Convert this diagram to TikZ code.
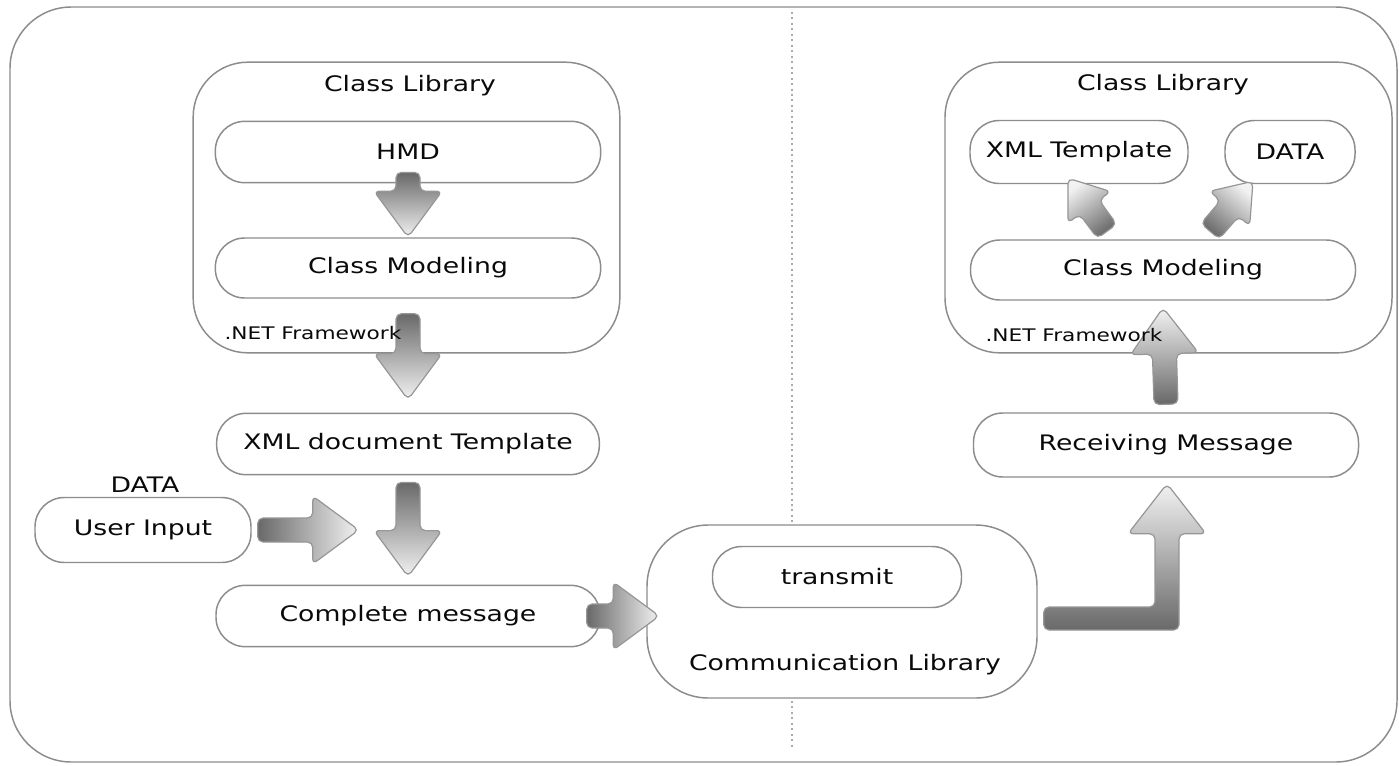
\documentclass[tikz,border=0pt]{standalone}
\usepackage{fontspec}
\setmainfont{DejaVu Sans}[FakeStretch=1.25]
\usepackage{tikz}
\tikzset{every picture/.style={line width=0.75pt}}
\usepackage{color}
\usetikzlibrary{calc}

\definecolor{boxgray}{RGB}{140,140,140}
\definecolor{arrowline}{RGB}{150,150,150}
\definecolor{tailgray}{RGB}{105,105,105}
\definecolor{headgray}{RGB}{242,242,242}
\definecolor{dotgray}{RGB}{170,170,170}
\definecolor{ink}{RGB}{10,10,10}

\tikzset{
  pill/.style={draw=boxgray, line width=1.1pt, fill=white, rounded corners=22pt, inner sep=0pt, minimum height=46pt, text=ink},
  libbox/.style={draw=boxgray, line width=1.1pt, fill=white, rounded corners=41pt, inner sep=0pt},
  caption/.style={inner sep=0.75pt, text=ink},
  arrowfill/.style={draw=arrowline, line width=0.9pt, rounded corners=4pt, top color=tailgray, bottom color=headgray},
}

% block arrow from #2 to #3, head scaled by #1
\newcommand\flowarrow[3][1]{%
  \path let \p1=(#2), \p2=(#3) in \pgfextra{%
    \pgfmathsetmacro\faang{atan2(\y2-\y1,\x2-\x1)}%
    \pgfmathsetmacro\falen{veclen(\x2-\x1,\y2-\y1)}%
    \pgfmathsetmacro\fahl{34.5*#1}%
    \pgfmathsetmacro\fahw{25.5*#1}%
    \global\let\faang\faang \global\let\falen\falen
    \global\let\fahl\fahl \global\let\fahw\fahw};
  \shade[arrowfill, shading angle=\faang+90, shift={(#2)}, rotate=\faang]
    (0pt,-9pt) -- ({\falen pt-\fahl pt},-9pt) -- ({\falen pt-\fahl pt},-\fahw pt) -- (\falen pt,0pt)
    -- ({\falen pt-\fahl pt},\fahw pt) -- ({\falen pt-\fahl pt},9pt) -- (0pt,9pt) -- cycle;
}

\begin{document}
\begin{tikzpicture}[x=0.75pt,y=-0.75pt,font=\fontsize{16}{19}\selectfont]
\useasboundingbox (0,0) rectangle (1399,765);

%Rounded Rect [frame]
\draw [draw=boxgray, line width=1.1pt, rounded corners=46pt] (10,7) rectangle (1397,762) ;
%Dotted divider
\draw [dotgray, line width=1.6pt, dash pattern=on 1.5pt off 2.6pt] (792,12) -- (792,523) ;
\draw [dotgray, line width=1.6pt, dash pattern=on 1.5pt off 2.6pt] (792,701) -- (792,750) ;

%Class library (left)
\node [libbox, minimum width=320pt, minimum height=218pt] (libL) at (406.5,207.5) {};
% Text Node
\node [caption] (libLname) at (410,86) {Class Library};
\node [pill, minimum width=289pt] (hmd) at (408,152) {HMD};
\node [pill, minimum width=289pt, minimum height=45pt] (cml) at (408,268) {Class Modeling};

\node [pill, minimum width=287pt] (xmldoc) at (408,444) {XML document Template};
% Text Node
\node [caption] (datain) at (145,485) {DATA};
\node [pill, minimum width=162pt, minimum height=48.75pt] (userin) at (143,530) {User Input};
\node [pill, minimum width=288pt] (complete) at (408,616) {Complete message};

%Communication library
\node [libbox, rounded corners=46pt, minimum width=292.5pt, minimum height=129.75pt] (comm) at (842,611.5) {};
\node [pill, minimum width=186.75pt, minimum height=45.75pt] (transmit) at (837,577) {transmit};
% Text Node
\node [caption] (commname) at (845,665) {Communication Library};

%Class library (right)
\node [libbox, minimum width=335.25pt, minimum height=218pt] (libR) at (1168.5,207.5) {};
% Text Node
\node [caption] (libRname) at (1163,85) {Class Library};
\node [pill, minimum width=163.5pt, minimum height=47.25pt] (xmlt) at (1079,152) {XML Template};
\node [pill, minimum width=97.5pt, minimum height=47.25pt] (datar) at (1290,152) {DATA};
\node [pill, minimum width=288.75pt, minimum height=45pt] (cmr) at (1163,270) {Class Modeling};
\node [pill, minimum width=288.75pt, minimum height=48pt] (recv) at (1166,445) {Receiving Message};

%Block arrows
\flowarrow{$(hmd.south)+(0,-11)$}{cml.north}
\flowarrow{$(cml.south)+(0,15)$}{$(xmldoc.north)+(0,-13)$}
\flowarrow{$(xmldoc.south)+(0,7)$}{$(complete.north)+(0,-8)$}
\coordinate (merge) at ($(userin.east)+(107,0)$);
\flowarrow{$(userin.east)+(6,0)$}{merge}
\flowarrow{$(complete.east)+(-14,0)$}{$(comm.west |- complete.east)+(13,0)$}
\flowarrow{$(recv.north)+(0,-8)$}{$(cmr.south)+(0,7)$}
\flowarrow[0.78]{$(cmr.north)+(-56,-8)$}{$(xmlt.south)+(-11,-6)$}
\flowarrow[0.78]{$(cmr.north)+(47,-8)$}{$(datar.south)+(-37,-3)$}

%Bent arrow
\coordinate (ltail) at ($(comm.east)+(6,7)$);
\coordinate (ltip) at ($(recv.south)+(1,6)$);
\coordinate (lbend) at (ltip |- ltail);
\shade [arrowfill, top color=headgray, bottom color=tailgray]
  ($(ltail)+(0,-11.5)$) -- ($(lbend)+(-12,-11.5)$) -- ($(ltip)+(-12,50)$) -- ($(ltip)+(-39,50)$) -- (ltip)
  -- ($(ltip)+(39,50)$) -- ($(ltip)+(12,50)$) -- ($(lbend)+(12,11.5)$) -- ($(ltail)+(0,11.5)$) -- cycle ;

% Text Node
\node [caption, anchor=west, font=\fontsize{13}{15}\selectfont] (netL) at (223,333) {.NET Framework};
% Text Node
\node [caption, anchor=west, font=\fontsize{13}{15}\selectfont] (netR) at (984,335) {.NET Framework};
\end{tikzpicture}
\end{document}
